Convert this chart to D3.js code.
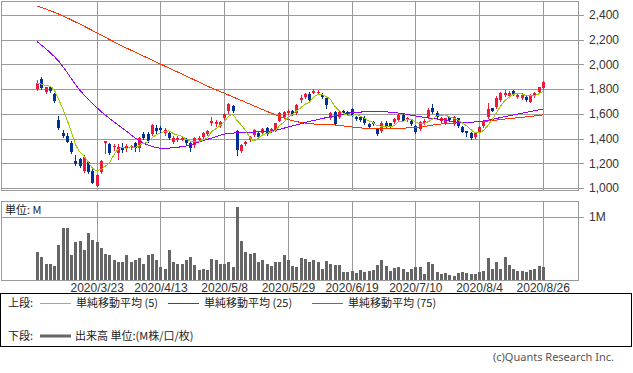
<!DOCTYPE html>
<html><head><meta charset="utf-8">
<script src="https://cdn.jsdelivr.net/npm/d3@7"></script>
<style>body{margin:0;background:#fff;}svg{display:block;}</style>
</head><body>
<svg id="c" width="633" height="373"></svg>
<script>
const dates = ["2020/3/2","2020/3/3","2020/3/4","2020/3/5","2020/3/6","2020/3/9","2020/3/10","2020/3/11","2020/3/12","2020/3/13","2020/3/16","2020/3/17","2020/3/18","2020/3/19","2020/3/23","2020/3/24","2020/3/25","2020/3/26","2020/3/27","2020/3/30","2020/3/31",
"2020/4/1","2020/4/2","2020/4/3","2020/4/6","2020/4/7","2020/4/8","2020/4/9","2020/4/10","2020/4/13","2020/4/14","2020/4/15","2020/4/16","2020/4/17","2020/4/20","2020/4/21","2020/4/22","2020/4/23","2020/4/24","2020/4/27","2020/4/28","2020/4/30",
"2020/5/1","2020/5/7","2020/5/8","2020/5/11","2020/5/12","2020/5/13","2020/5/14","2020/5/15","2020/5/18","2020/5/19","2020/5/20","2020/5/21","2020/5/22","2020/5/25","2020/5/26","2020/5/27","2020/5/28","2020/5/29",
"2020/6/1","2020/6/2","2020/6/3","2020/6/4","2020/6/5","2020/6/8","2020/6/9","2020/6/10","2020/6/11","2020/6/12","2020/6/15","2020/6/16","2020/6/17","2020/6/18","2020/6/19","2020/6/22","2020/6/23","2020/6/24","2020/6/25","2020/6/26","2020/6/29","2020/6/30",
"2020/7/1","2020/7/2","2020/7/3","2020/7/6","2020/7/7","2020/7/8","2020/7/9","2020/7/10","2020/7/13","2020/7/14","2020/7/15","2020/7/16","2020/7/17","2020/7/20","2020/7/21","2020/7/22","2020/7/27","2020/7/28","2020/7/29","2020/7/30","2020/7/31",
"2020/8/3","2020/8/4","2020/8/5","2020/8/6","2020/8/7","2020/8/11","2020/8/12","2020/8/13","2020/8/14","2020/8/17","2020/8/18","2020/8/19","2020/8/20","2020/8/21","2020/8/24","2020/8/25","2020/8/26"];

const open = [1799,1882,1779,1815,1761,1550,1443,1423,1367,1219,
1232,1140,1208,1140,1019,1132,1367,1356,1335,1281,
1334,1326,1330,1362,1326,1435,1435,1435,1483,1483,
1443,1443,1370,1389,1392,1389,1362,1348,1389,1410,
1435,1529,1518,1502,1564,1623,1664,1461,1302,1356,
1389,1429,1443,1448,1483,1456,1469,1545,1577,1605,
1626,1605,1712,1734,1761,1771,1766,1753,1726,1564,
1613,1577,1620,1618,1637,1572,1572,1564,1518,1537,
1475,1464,1529,1524,1532,1550,1591,1550,1545,1502,
1475,1524,1572,1648,1610,1546,1524,1572,1518,1564,
1496,1461,1448,1415,1456,1502,1577,1645,1658,1712,
1753,1745,1788,1734,1726,1739,1699,1745,1780,1807];

const high = [1874,1901,1820,1826,1771,1583,1469,1443,1383,1267,
1240,1267,1219,1151,1110,1227,1380,1364,1356,1354,
1362,1356,1350,1370,1410,1451,1451,1521,1510,1502,
1486,1461,1418,1418,1415,1405,1375,1415,1420,1453,
1470,1577,1550,1545,1610,1685,1670,1470,1356,1383,
1420,1478,1456,1483,1490,1483,1530,1615,1625,1640,
1635,1680,1753,1770,1775,1800,1790,1765,1735,1615,
1620,1625,1630,1625,1645,1580,1580,1580,1530,1545,
1483,1540,1540,1530,1565,1600,1600,1575,1560,1510,
1545,1555,1645,1680,1620,1575,1570,1585,1580,1570,
1500,1464,1452,1455,1502,1545,1688,1650,1745,1775,
1797,1785,1795,1765,1770,1750,1760,1780,1820,1865];

const low = [1793,1799,1766,1779,1698,1478,1415,1370,1286,1186,
1172,1132,1124,1038,1016,1124,1287,1275,1308,1235,
1294,1300,1313,1302,1302,1394,1372,1427,1445,1453,
1429,1394,1362,1383,1385,1345,1300,1335,1380,1398,
1425,1510,1504,1496,1556,1610,1615,1267,1294,1345,
1380,1420,1405,1440,1430,1450,1462,1540,1570,1598,
1590,1600,1700,1725,1705,1765,1758,1730,1648,1556,
1510,1570,1598,1590,1585,1550,1545,1520,1490,1510,
1425,1456,1495,1495,1525,1545,1540,1540,1510,1445,
1470,1515,1565,1610,1570,1538,1515,1545,1510,1495,
1450,1420,1398,1405,1450,1495,1570,1620,1650,1705,
1745,1740,1755,1725,1720,1705,1695,1740,1775,1800];

const close = [1847,1807,1815,1788,1704,1483,1421,1375,1294,1194,
1180,1253,1132,1043,1105,1219,1380,1281,1342,1334,
1308,1342,1340,1321,1402,1402,1380,1510,1461,1467,
1469,1402,1407,1407,1405,1362,1321,1402,1407,1443,
1461,1545,1537,1537,1596,1677,1623,1308,1348,1375,
1410,1469,1415,1475,1437,1475,1523,1605,1618,1626,
1596,1672,1728,1761,1712,1788,1779,1739,1672,1605,
1518,1618,1610,1599,1591,1556,1550,1529,1496,1518,
1435,1524,1502,1502,1556,1591,1545,1564,1518,1451,
1537,1545,1631,1618,1577,1564,1564,1550,1572,1502,
1456,1443,1402,1448,1496,1537,1637,1626,1726,1766,
1770,1766,1761,1753,1753,1712,1753,1771,1815,1860];

const ma5 = [1850,1840,1830,1822,1792,1719,1642,1554,1455,1353,
1293,1259,1211,1160,1143,1150,1176,1206,1265,1311,
1329,1321,1333,1329,1343,1361,1369,1403,1431,1444,
1457,1462,1441,1430,1418,1397,1380,1379,1379,1387,
1407,1452,1479,1505,1535,1578,1594,1548,1510,1466,
1413,1382,1403,1429,1441,1454,1465,1503,1532,1569,
1594,1623,1648,1677,1694,1732,1754,1756,1738,1717,
1663,1630,1605,1590,1587,1595,1581,1565,1544,1530,
1506,1500,1495,1496,1504,1535,1539,1552,1555,1534,
1523,1523,1536,1556,1582,1587,1591,1575,1565,1550,
1529,1505,1475,1450,1449,1465,1504,1549,1604,1658,
1705,1731,1758,1763,1761,1749,1746,1748,1761,1782];

const maDates = ["2020/3/2","2020/3/9","2020/3/16","2020/3/24","2020/3/31","2020/4/7","2020/4/14","2020/4/21","2020/4/28","2020/5/11","2020/5/18","2020/5/25","2020/6/1","2020/6/8","2020/6/15","2020/6/22","2020/6/29","2020/7/6","2020/7/13","2020/7/20","2020/7/29","2020/8/5","2020/8/13","2020/8/20","2020/8/26"];
const ma25 = [2184,2028,1793,1620,1486,1363,1321,1340,1393,1441,1451,1461,1502,1546,1583,1613,1618,1607,1577,1554,1530,1542,1577,1612,1639];
const ma75 = [2473,2408,2327,2238,2149,2068,1987,1907,1826,1753,1680,1607,1545,1518,1510,1490,1478,1482,1494,1518,1530,1538,1558,1575,1591];

const volume = [0.44,0.36,0.26,0.26,0.23,0.56,0.82,0.83,0.39,0.61,
0.62,0.47,0.75,0.64,0.61,0.51,0.42,0.40,0.31,0.28,
0.29,0.40,0.29,0.32,0.35,0.26,0.39,0.42,0.31,0.21,
0.18,0.47,0.28,0.26,0.26,0.31,0.37,0.24,0.16,0.18,
0.16,0.34,0.31,0.26,0.26,0.28,0.20,1.16,0.62,0.45,
0.42,0.43,0.28,0.32,0.26,0.23,0.29,0.29,0.39,0.32,
0.23,0.21,0.35,0.34,0.29,0.31,0.28,0.18,0.30,0.25,
0.24,0.24,0.13,0.13,0.14,0.11,0.16,0.13,0.14,0.16,
0.24,0.31,0.22,0.15,0.19,0.20,0.18,0.13,0.18,0.20,
0.20,0.10,0.28,0.26,0.12,0.10,0.11,0.085,0.06,0.11,
0.12,0.11,0.10,0.10,0.13,0.15,0.35,0.18,0.29,0.18,
0.37,0.24,0.18,0.14,0.14,0.13,0.16,0.18,0.23,0.20];

const priceTicks = [1000,1200,1400,1600,1800,2000,2200,2400];
const volumeTicks = [1];
const tickDates = ["2020/3/23","2020/4/13","2020/5/8","2020/5/29","2020/6/19","2020/7/10","2020/8/4","2020/8/26"];
const legendTop = [{label:"単純移動平均 (5)", color:"#99cc00"},{label:"単純移動平均 (25)", color:"#9900ff"},{label:"単純移動平均 (75)", color:"#ff3300"}];

const UP = "#f0193c", DOWN = "#003296", GRID = "#9a9a9a";
const svg = d3.select("#c");
const L = 1, R = 579;
const x = d3.scalePoint().domain(dates).range([L, R]).padding(8.53);
const y = d3.scaleLinear().domain([1000, 2400]).range([188, 15]);
const v = d3.scaleLinear().domain([0, 1]).range([280, 217]);
const cx = d => Math.round(x(d));
const FONT = "'Liberation Sans', Arial, sans-serif";
const JFONT = "'Noto Sans CJK JP', 'Noto Sans', sans-serif";

// price panel frame & grid
const gp = svg.append("g").attr("shape-rendering","crispEdges");
gp.selectAll("line.h").data(priceTicks).join("line")
  .attr("x1", L).attr("x2", R).attr("y1", d => Math.round(y(d))+0.5).attr("y2", d => Math.round(y(d))+0.5)
  .attr("stroke", GRID);
gp.selectAll("line.v").data(tickDates).join("line")
  .attr("x1", d => cx(d)+0.5).attr("x2", d => cx(d)+0.5).attr("y1", 1).attr("y2", 190)
  .attr("stroke", GRID);
gp.append("rect").attr("x", L+0.5).attr("y", 1.5).attr("width", R-L-1).attr("height", 189)
  .attr("fill","none").attr("stroke", GRID);

// volume panel frame & grid
const gv = svg.append("g").attr("shape-rendering","crispEdges");
gv.selectAll("line.h").data(volumeTicks).join("line")
  .attr("x1", L).attr("x2", R).attr("y1", d => Math.round(v(d))+0.5).attr("y2", d => Math.round(v(d))+0.5)
  .attr("stroke", GRID);
gv.selectAll("line.v").data(tickDates).join("line")
  .attr("x1", d => cx(d)+0.5).attr("x2", d => cx(d)+0.5).attr("y1", 201).attr("y2", 280)
  .attr("stroke", GRID);
gv.append("rect").attr("x", L+0.5).attr("y", 201.5).attr("width", R-L-1).attr("height", 79)
  .attr("fill","none").attr("stroke", GRID);

// volume bars
svg.append("g").attr("shape-rendering","crispEdges").selectAll("rect").data(dates).join("rect")
  .attr("x", d => cx(d)-1).attr("width", 3)
  .attr("y", (d,i) => Math.round(v(volume[i]))).attr("height", (d,i) => 280 - Math.round(v(volume[i])))
  .attr("fill", "#666");

// axes
const ay = svg.append("g").attr("transform", `translate(${R},0)`)
  .call(d3.axisRight(y).tickValues(priceTicks).tickSize(5).tickPadding(5).tickFormat(d3.format(",")));
const av = svg.append("g").attr("transform", `translate(${R},0)`)
  .call(d3.axisRight(v).tickValues(volumeTicks).tickSize(5).tickPadding(5).tickFormat(d => d + "M"));
[ay, av].forEach(a => {
  a.select(".domain").remove();
  a.selectAll("line").attr("stroke", GRID).attr("shape-rendering","crispEdges");
  a.selectAll("text").attr("font-family", FONT).attr("font-size", 12).attr("fill", "#333");
});
const ax = svg.append("g").attr("transform", `translate(0,280)`)
  .call(d3.axisBottom(x).tickValues(tickDates).tickSize(0).tickPadding(3));
ax.select(".domain").remove();
ax.selectAll("text").attr("font-family", FONT).attr("font-size", 12).attr("fill", "#333");

svg.append("text").attr("x", 5).attr("y", 214).attr("font-family", JFONT).attr("font-size", 11).attr("fill","#222").text("単位: M");

// candles
const cg = svg.append("g").attr("shape-rendering","crispEdges");
dates.forEach((d, i) => {
  const up = close[i] >= open[i];
  const col = up ? UP : DOWN;
  const xc = cx(d);
  cg.append("line").attr("x1", xc+0.5).attr("x2", xc+0.5)
    .attr("y1", Math.round(y(high[i]))).attr("y2", Math.round(y(low[i]))+1).attr("stroke", col);
  const top = Math.round(y(Math.max(open[i], close[i])));
  const bot = Math.round(y(Math.min(open[i], close[i])));
  cg.append("rect").attr("x", xc-1).attr("width", 3).attr("y", top).attr("height", Math.max(1, bot-top)).attr("fill", col);
});

// moving averages
const lineDaily = d3.line().x((d,i) => x(dates[i])).y(d => y(d)).curve(d3.curveMonotoneX);
const lineSampled = d3.line().x((d,i) => x(maDates[i])).y(d => y(d)).curve(d3.curveMonotoneX);
const mag = svg.append("g").attr("fill","none").attr("stroke-width",1).attr("shape-rendering","crispEdges");
mag.append("path").attr("d", lineSampled(ma75)).attr("stroke","#ff3300");
mag.append("path").attr("d", lineSampled(ma25)).attr("stroke","#9900ff");
mag.append("path").attr("d", lineDaily(ma5)).attr("stroke","#99cc00");

// legend
svg.append("rect").attr("x",0.5).attr("y",293.5).attr("width",631).attr("height",53).attr("fill","none").attr("stroke","#000").attr("shape-rendering","crispEdges");
svg.append("text").attr("x",8).attr("y",307).attr("font-family",JFONT).attr("font-size",11).attr("fill","#222").text("上段:");
const lx = [40, 168, 312];
legendTop.forEach((it, k) => {
  svg.append("line").attr("x1", lx[k]).attr("x2", lx[k]+31).attr("y1", 303.5).attr("y2", 303.5).attr("stroke", it.color).attr("stroke-width",1).attr("shape-rendering","crispEdges");
  svg.append("text").attr("x", lx[k]+36).attr("y", 307).attr("font-family",JFONT).attr("font-size",11).attr("fill","#222").text(it.label);
});
svg.append("text").attr("x",8).attr("y",340).attr("font-family",JFONT).attr("font-size",11).attr("fill","#222").text("下段:");
svg.append("line").attr("x1",40).attr("x2",71).attr("y1",336).attr("y2",336).attr("stroke","#666").attr("stroke-width",3);
svg.append("text").attr("x",75).attr("y",340).attr("font-family",JFONT).attr("font-size",11).attr("fill","#222").text("出来高 単位:(M株/口/枚)");
svg.append("text").attr("x",614).attr("y",361).attr("text-anchor","end").attr("font-family","'Noto Sans', sans-serif").attr("font-size",11).attr("fill","#555").text("(c)Quants Research Inc.");
</script>
</body></html>
